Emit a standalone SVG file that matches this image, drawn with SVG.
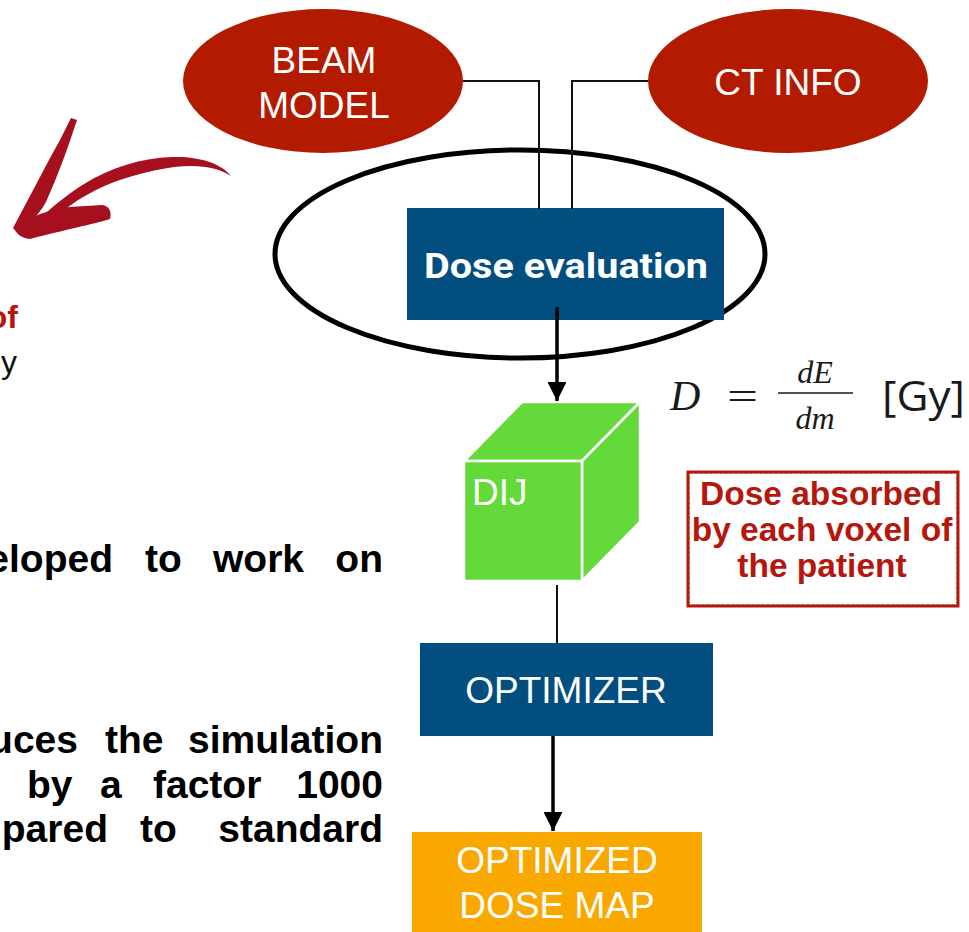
<svg xmlns="http://www.w3.org/2000/svg" width="969" height="932" viewBox="0 0 969 932">
  <style>
    .lbl { font-family: "Liberation Sans", Arial, sans-serif; fill: #ffffff; font-size: 37px; text-anchor: middle; }
    .body { font-family: "Liberation Sans", Arial, sans-serif; font-weight: bold; font-size: 39px; fill: #000000; }
    .note { font-family: "Liberation Sans", Arial, sans-serif; font-weight: bold; font-size: 33.5px; fill: #B5170C; text-anchor: middle; }
    .math { font-family: "Liberation Serif", "Times New Roman", serif; font-style: italic; fill: #1a1a1a; }
    .wire { fill: none; stroke: #111111; stroke-width: 2; }
    .flow { fill: none; stroke: #000000; stroke-width: 3.5; }
    .cube { fill: #63D93A; stroke: #ffffff; stroke-width: 2.5; stroke-linejoin: round; }
  </style>
  <defs>
    <marker id="head" viewBox="0 0 10 10" refX="10" refY="5" markerWidth="5.4" markerHeight="5.4" markerUnits="strokeWidth" orient="auto">
      <path d="M0,0 L10,5 L0,10 Z" fill="#000000"/>
    </marker>
  </defs>

  <rect width="969" height="932" fill="#ffffff"/>

  <!-- brush-stroke arrow on the left -->
  <g id="brush-arrow" fill="#A50F1E">
    <path d="M231,176 C222,164 200,156 172,157 C140,158 110,168 84,184 C68,194 56,204 46,213 L52,221 C64,209 78,199 96,190 C118,179 146,171 174,167 C198,164 218,167 231,176 Z"/>
    <path d="M71,118 L77,120 C68,148 58,175 46,202 C38,216 26,228 18,233 L13,228 C28,200 46,165 60,140 C64,132 68,124 71,118 Z"/>
    <path d="M14,228 C28,218 48,209 70,207 L102,205 C109,206 112,211 110,219 C94,224 64,230 30,239 C22,238 16,234 14,228 Z"/>
  </g>

  <!-- cut-off column text on the left -->
  <g id="left-text">
    <text x="18" y="328" text-anchor="end" style="font-family:'Liberation Sans',Arial,sans-serif;font-weight:bold;font-size:32px;fill:#B5170C">of</text>
    <text x="17" y="373" text-anchor="end" style="font-family:'Liberation Sans',Arial,sans-serif;font-size:32px;fill:#111111">y</text>
    <text class="body" y="572"><tspan x="113" text-anchor="end">eloped</tspan><tspan x="145">to</tspan><tspan x="213">work</tspan><tspan x="383" text-anchor="end">on</tspan></text>
    <text class="body" y="753"><tspan x="78" text-anchor="end">uces</tspan><tspan x="105">the</tspan><tspan x="383" text-anchor="end">simulation</tspan></text>
    <text class="body" y="798"><tspan x="27">by</tspan><tspan x="100">a</tspan><tspan x="153">factor</tspan><tspan x="383" text-anchor="end">1000</tspan></text>
    <text class="body" y="842"><tspan x="108" text-anchor="end">pared</tspan><tspan x="140">to</tspan><tspan x="383" text-anchor="end">standard</tspan></text>
  </g>

  <!-- input nodes -->
  <g id="beam-model">
    <ellipse cx="323" cy="81" rx="140" ry="72" fill="#B31B00"/>
    <text class="lbl" x="324" y="73">BEAM</text>
    <text class="lbl" x="324" y="118">MODEL</text>
  </g>
  <g id="ct-info">
    <ellipse cx="788" cy="81" rx="140" ry="72" fill="#B31B00"/>
    <text class="lbl" x="788" y="95">CT INFO</text>
  </g>

  <!-- dose evaluation with its enclosing ring -->
  <g id="dose-evaluation">
    <ellipse cx="520" cy="254" rx="245" ry="104" fill="none" stroke="#000000" stroke-width="5"/>
    <rect x="407" y="208" width="317" height="112" fill="#024F7F"/>
    <text x="566" y="278" text-anchor="middle" textLength="284" lengthAdjust="spacingAndGlyphs" style="font-family:Roboto,'Liberation Sans',sans-serif;font-weight:bold;font-size:35px;fill:#ffffff">Dose evaluation</text>
  </g>

  <!-- dose influence matrix cube -->
  <g id="dij">
    <polygon class="cube" points="464,461 522,402 640,402 582,461"/>
    <polygon class="cube" points="582,461 640,402 640,522 582,581"/>
    <rect class="cube" x="464" y="461" width="118" height="120"/>
    <text x="472" y="505" style="font-family:'Liberation Sans',Arial,sans-serif;font-size:37px;fill:#ffffff">DIJ</text>
  </g>

  <!-- dose formula -->
  <g id="formula">
    <text class="math" x="670" y="410" font-size="42">D</text>
    <text x="727" y="410" font-size="40" textLength="31" lengthAdjust="spacingAndGlyphs" style="font-family:'Liberation Serif',serif;fill:#1a1a1a">=</text>
    <line x1="778" y1="393" x2="853" y2="393" stroke="#1a1a1a" stroke-width="1.6"/>
    <text class="math" x="815" y="383" font-size="32" text-anchor="middle">dE</text>
    <text class="math" x="815" y="429" font-size="32" text-anchor="middle">dm</text>
    <text x="882" y="411" font-size="42" textLength="83" lengthAdjust="spacingAndGlyphs" style="font-family:'Open Sans','Liberation Sans',sans-serif;fill:#1a1a1a">[Gy]</text>
  </g>

  <!-- annotation box -->
  <g id="dose-note">
    <rect x="688" y="472" width="270" height="134" fill="#ffffff" stroke="#B3180C" stroke-width="3"/>
    <rect x="689.5" y="473.5" width="267" height="131" fill="none" stroke="#C9564C" stroke-width="1" stroke-dasharray="3 2"/>
    <text class="note" x="821" y="505">Dose absorbed</text>
    <text class="note" x="822" y="541">by each voxel of</text>
    <text class="note" x="822" y="577">the patient</text>
  </g>

  <g id="optimizer">
    <rect x="420" y="643" width="293" height="93" fill="#024F7F"/>
    <text class="lbl" x="566" y="703">OPTIMIZER</text>
  </g>

  <g id="optimized-dose-map">
    <rect x="412" y="832" width="290" height="100" fill="#F9A800"/>
    <text class="lbl" x="557" y="873">OPTIMIZED</text>
    <text class="lbl" x="557" y="918">DOSE MAP</text>
  </g>

  <!-- connectors -->
  <g id="connectors">
    <path class="wire" d="M463,81 H539 V209"/>
    <path class="wire" d="M648,81 H572 V209"/>
    <path class="flow" d="M557,307 V401" marker-end="url(#head)"/>
    <path class="wire" d="M557,585 V643"/>
    <path class="flow" d="M553,736 V831" marker-end="url(#head)"/>
  </g>
</svg>
